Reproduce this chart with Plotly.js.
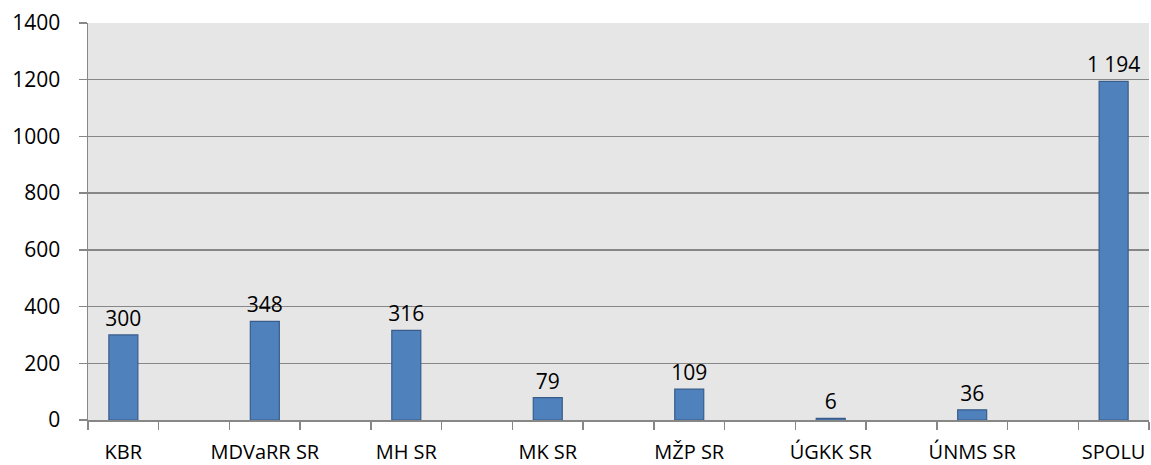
<!DOCTYPE html>
<html>
<head>
<meta charset="utf-8">
<script src="https://cdn.plot.ly/plotly-3.0.1.min.js"></script>
<style>html,body{margin:0;padding:0;background:#fff;}#chart{width:1151px;height:465px;}</style>
</head>
<body>
<div id="chart"></div>
<script>
const categories = ['KBR', 'MDVaRR SR', 'MH SR', 'MK SR', 'MŽP SR', 'ÚGKK SR', 'ÚNMS SR', 'SPOLU'];
const values = [300, 348, 316, 79, 109, 6, 36, 1194];
const yTicks = [0, 200, 400, 600, 800, 1000, 1200, 1400];

// Each category occupies every other slot of a 15-slot axis (as in the source chart)
const slots = categories.map((c, i) => i * 2);

const trace = {
  type: 'bar',
  x: slots,
  y: values,
  width: 0.41,
  marker: {color: '#4f81bd', line: {color: '#385d8a', width: 1.2}},
  texttemplate: '%{y:,}',
  textposition: 'outside',
  constraintext: 'none',
  cliponaxis: false,
  textfont: {family: 'Open Sans', size: 21, color: '#000'},
  hoverinfo: 'skip'
};

const layout = {
  width: 1151,
  height: 465,
  margin: {l: 88, r: 2, t: 23, b: 45},
  paper_bgcolor: '#ffffff',
  plot_bgcolor: '#e6e6e6',
  separators: ', ',
  showlegend: false,
  font: {family: 'Open Sans', size: 21, color: '#000'},
  xaxis: {
    range: [-0.5, 14.5],
    tickmode: 'array',
    tickvals: slots,
    ticktext: categories,
    ticks: '',
    showgrid: false,
    zeroline: false,
    showline: true,
    linecolor: '#878787',
    linewidth: 1.5,
    ticklabelstandoff: 13,
    tickfont: {family: 'Open Sans', size: 20, color: '#000'},
    minor: {tickmode: 'linear', tick0: -0.5, dtick: 1, ticks: 'outside', ticklen: 8, tickcolor: '#878787', tickwidth: 1.5, showgrid: false}
  },
  yaxis: {
    range: [0, 1400],
    tickmode: 'array',
    tickvals: yTicks,
    ticktext: yTicks.map(String),
    ticks: 'outside',
    ticklen: 8,
    tickcolor: '#878787',
    tickwidth: 1.5,
    showgrid: true,
    gridcolor: '#878787',
    gridwidth: 1.5,
    zeroline: false,
    showline: true,
    linecolor: '#878787',
    linewidth: 1.5,
    ticklabelstandoff: 14,
    tickfont: {family: 'Open Sans', size: 21, color: '#000'}
  }
};

Plotly.newPlot('chart', [trace], layout, {displayModeBar: false, staticPlot: true});
</script>
</body>
</html>
